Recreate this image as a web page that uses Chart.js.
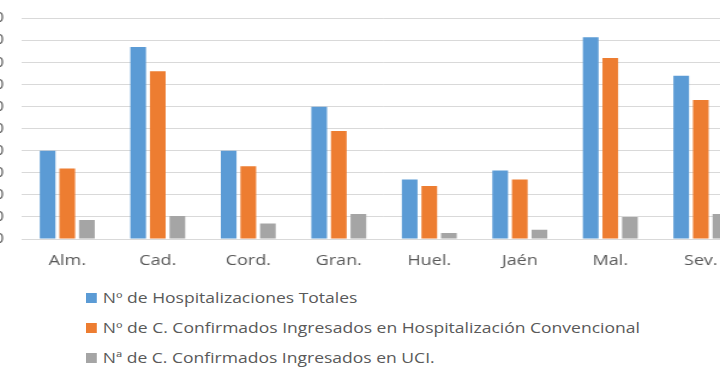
<!DOCTYPE html>
<html>
<head>
<meta charset="utf-8">
<script src="https://cdn.jsdelivr.net/npm/chart.js@4"></script>
<style>
  html, body { margin: 0; padding: 0; background: #ffffff; overflow: hidden; width: 720px; height: 380px; }
  #wrap { position: absolute; left: -60px; top: -5px; width: 700px; height: 288px; transform: scaleX(1.2); transform-origin: 0 0; }
  #legend { position: absolute; left: 86px; top: 0; font-family: 'Open Sans', sans-serif; font-size: 14.6px; color: #595959; transform: scaleX(1.2); transform-origin: 0 0; }
  .item { position: absolute; left: 0; white-space: nowrap; height: 20px; line-height: 20px; }
  .box { display: inline-block; width: 8.5px; height: 10px; margin-right: 5.5px; }
</style>
</head>
<body>
<div id="wrap"><canvas id="c" width="700" height="288"></canvas></div>
<div id="legend"></div>
<script>
const categories = ['Alm.', 'Cad.', 'Cord.', 'Gran.', 'Huel.', 'Jaén', 'Mal.', 'Sev.'];
const seriesNames = [
  'Nº de Hospitalizaciones Totales',
  'Nº de C. Confirmados Ingresados en Hospitalización Convencional',
  'Nª de C. Confirmados Ingresados en UCI.'
];
const totales = [40, 87, 40, 60, 27, 31, 91.5, 74];
const convencional = [32, 76, 33, 49, 24, 27, 82, 63];
const uci = [8.6, 10.4, 7, 11.3, 2.7, 4.2, 10, 11.3];
const yTicks = [0, 10, 20, 30, 40, 50, 60, 70, 80, 90, 100];
const colors = ['#5b9bd5', '#ed7d31', '#a5a5a5'];

Chart.defaults.font.family = "'Open Sans', sans-serif";
Chart.defaults.color = '#595959';

const seriesValues = [totales, convencional, uci];
const chart = new Chart(document.getElementById('c'), {
  type: 'bar',
  data: {
    labels: categories,
    datasets: seriesValues.map((v, i) => ({
      label: seriesNames[i],
      data: v,
      backgroundColor: colors[i],
      borderWidth: 0,
      categoryPercentage: 0.65,
      barPercentage: 0.8
    }))
  },
  options: {
    responsive: false,
    animation: false,
    events: [],
    layout: { padding: { top: 8, right: 28.3, left: 0, bottom: 0 } },
    plugins: { legend: { display: false }, tooltip: { enabled: false } },
    scales: {
      x: {
        grid: { display: false, drawTicks: false },
        border: { display: true, color: '#d9d9d9', width: 1 },
        ticks: { padding: 13, font: { size: 15 }, color: '#595959', maxRotation: 0 }
      },
      y: {
        min: yTicks[0],
        max: yTicks[yTicks.length - 1],
        afterFit: s => { s.width = 68.33; },
        afterBuildTicks: s => { s.ticks = yTicks.map(v => ({ value: v })); },
        grid: { color: '#d9d9d9', lineWidth: 1, drawTicks: false },
        border: { display: false },
        ticks: { padding: 15, font: { size: 14 }, color: '#595959' }
      }
    }
  }
});

const legend = document.getElementById('legend');
const rowY = [297, 327, 357];
chart.data.datasets.forEach((d, i) => {
  const it = document.createElement('div');
  it.className = 'item';
  it.style.top = (rowY[i] - 10) + 'px';
  const b = document.createElement('span');
  b.className = 'box';
  b.style.background = d.backgroundColor;
  it.appendChild(b);
  it.appendChild(document.createTextNode(d.label));
  legend.appendChild(it);
});
</script>
</body>
</html>
